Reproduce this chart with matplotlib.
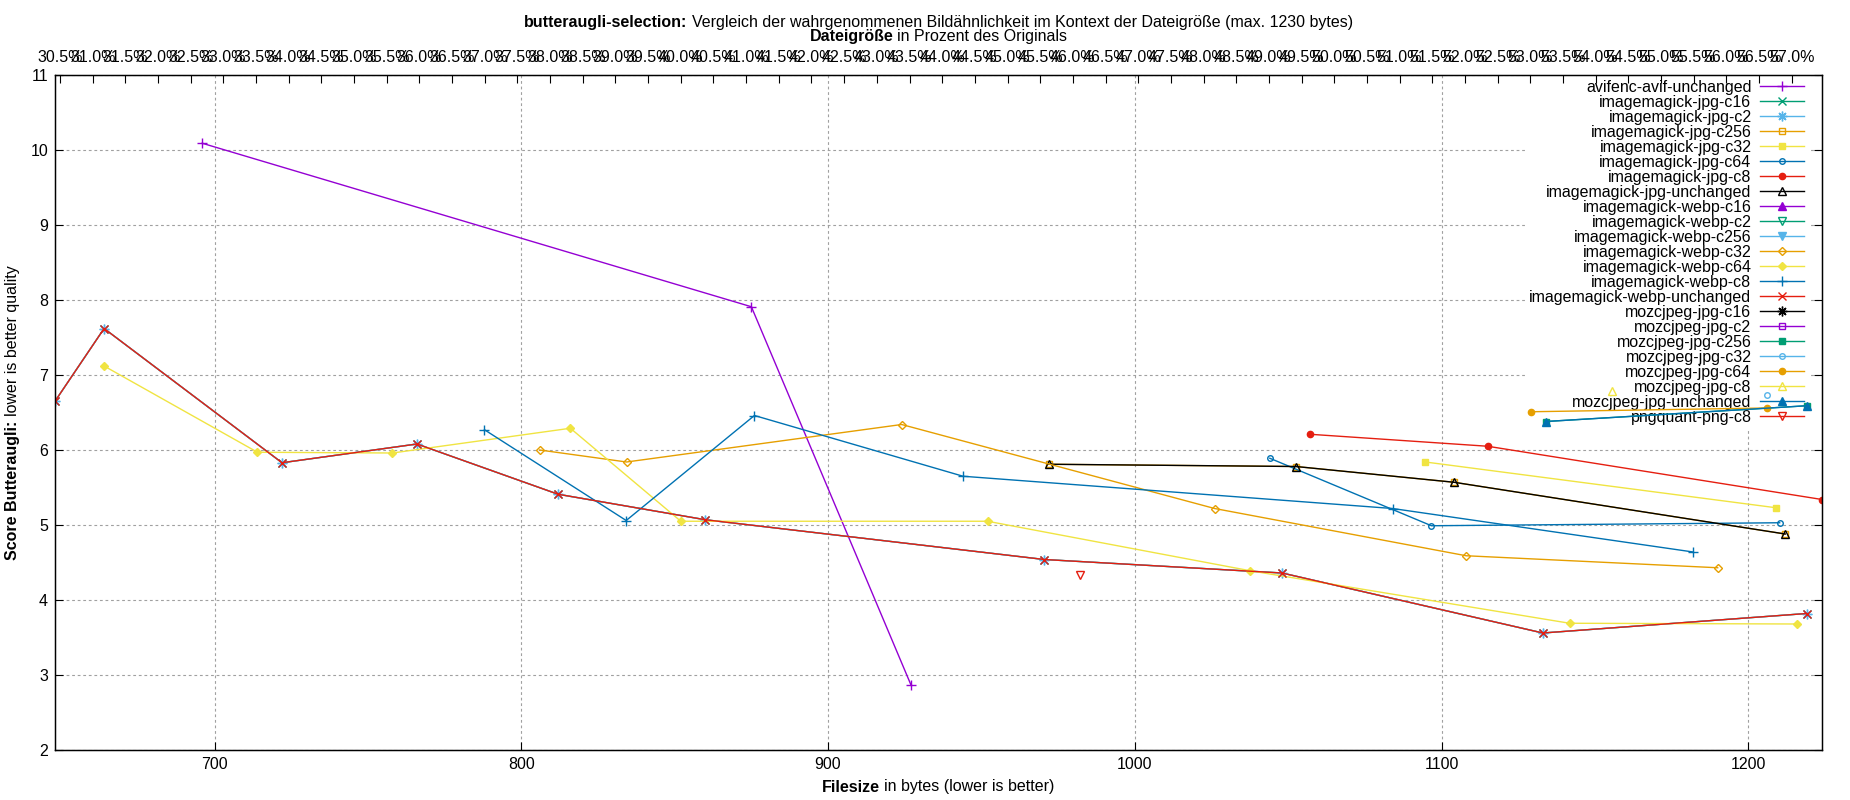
import numpy as np
import matplotlib.pyplot as plt
from matplotlib.offsetbox import TextArea, HPacker, AnchoredOffsetbox

plt.rcParams['font.family'] = ['Liberation Sans', 'DejaVu Sans']

FS = 11.5
ORIGINAL_BYTES = 2130

# filesize in bytes / butteraugli score
avif_x = [696, 875, 927]
avif_y = [10.09, 7.91, 2.87]

# several variants give identical results (drawn on top of each other)
shared_x = [648, 664, 722, 766, 812, 860, 970.5, 1048, 1133, 1219]
shared_y = [6.65, 7.62, 5.83, 6.08, 5.41, 5.07, 4.54, 4.36, 3.56, 3.82]

im_jpg_unchanged_x = [972, 1052.5, 1104, 1212]
im_jpg_unchanged_y = [5.81, 5.78, 5.57, 4.88]
im_jpg_c32_x = [1094.7, 1209]
im_jpg_c32_y = [5.84, 5.23]
im_jpg_c64_x = [1044, 1096.7, 1210.2]
im_jpg_c64_y = [5.89, 4.99, 5.03]
im_jpg_c8_x = [1057, 1115, 1224]
im_jpg_c8_y = [6.21, 6.05, 5.34]
im_webp_c32_x = [806, 834.3, 924, 1026, 1108, 1190]
im_webp_c32_y = [6.00, 5.84, 6.34, 5.22, 4.59, 4.43]
im_webp_c64_x = [664, 714, 758, 816, 852, 952, 1037.6, 1141.7, 1216]
im_webp_c64_y = [7.12, 5.97, 5.96, 6.29, 5.05, 5.05, 4.39, 3.69, 3.68]
im_webp_c8_x = [788, 834.2, 876, 944, 1084, 1182]
im_webp_c8_y = [6.27, 5.06, 6.46, 5.65, 5.22, 4.64]
moz_c256_x = [1134, 1219]
moz_c256_y = [6.38, 6.59]
moz_c32_x = [1206]
moz_c32_y = [6.73]
moz_c64_x = [1129, 1206]
moz_c64_y = [6.51, 6.56]
moz_c8_x = [1155.7]
moz_c8_y = [6.79]
png_c8_x = [982]
png_c8_y = [4.33]
empty = []

x_ticks = [700, 800, 900, 1000, 1100, 1200]
y_ticks = [2, 3, 4, 5, 6, 7, 8, 9, 10, 11]
pct_ticks = np.arange(30.5, 57.01, 0.5)

# gnuplot default colours and point types
purple, green, skyblue, orange = '#9400d3', '#009e73', '#56b4e9', '#e69f00'
yellow, blue, red, black = '#f0e442', '#0072b2', '#e51e10', '#000000'
ast = (8, 2, 0)

series = [
    ('avifenc-avif-unchanged', avif_x, avif_y, purple, '+', True, 7),
    ('imagemagick-jpg-c16', shared_x, shared_y, green, 'x', True, 6),
    ('imagemagick-jpg-c2', shared_x, shared_y, skyblue, ast, True, 7),
    ('imagemagick-jpg-c256', im_jpg_unchanged_x, im_jpg_unchanged_y, orange, 's', False, 5),
    ('imagemagick-jpg-c32', im_jpg_c32_x, im_jpg_c32_y, yellow, 's', True, 5),
    ('imagemagick-jpg-c64', im_jpg_c64_x, im_jpg_c64_y, blue, 'o', False, 4),
    ('imagemagick-jpg-c8', im_jpg_c8_x, im_jpg_c8_y, red, 'o', True, 4.5),
    ('imagemagick-jpg-unchanged', im_jpg_unchanged_x, im_jpg_unchanged_y, black, '^', False, 5.5),
    ('imagemagick-webp-c16', empty, empty, purple, '^', True, 5.5),
    ('imagemagick-webp-c2', empty, empty, green, 'v', False, 5.5),
    ('imagemagick-webp-c256', empty, empty, skyblue, 'v', True, 5.5),
    ('imagemagick-webp-c32', im_webp_c32_x, im_webp_c32_y, orange, 'D', False, 4),
    ('imagemagick-webp-c64', im_webp_c64_x, im_webp_c64_y, yellow, 'D', True, 4),
    ('imagemagick-webp-c8', im_webp_c8_x, im_webp_c8_y, blue, '+', True, 7),
    ('imagemagick-webp-unchanged', shared_x, shared_y, red, 'x', True, 6),
    ('mozcjpeg-jpg-c16', empty, empty, black, ast, True, 7),
    ('mozcjpeg-jpg-c2', empty, empty, purple, 's', False, 5),
    ('mozcjpeg-jpg-c256', moz_c256_x, moz_c256_y, green, 's', True, 5),
    ('mozcjpeg-jpg-c32', moz_c32_x, moz_c32_y, skyblue, 'o', False, 4),
    ('mozcjpeg-jpg-c64', moz_c64_x, moz_c64_y, orange, 'o', True, 4.5),
    ('mozcjpeg-jpg-c8', moz_c8_x, moz_c8_y, yellow, '^', False, 5.5),
    ('mozcjpeg-jpg-unchanged', moz_c256_x, moz_c256_y, blue, '^', True, 5.5),
    ('pngquant-png-c8', png_c8_x, png_c8_y, red, 'v', False, 5.5),
]

W, H = 1850, 800
fig = plt.figure(figsize=(W / 100, H / 100), dpi=100)
left, right, top, bottom = 55, 1822, 75, 750
ax = fig.add_axes([left / W, 1 - bottom / H, (right - left) / W, (bottom - top) / H])

for label, xs, ys, col, mk, filled, ms in series:
    ax.plot(xs, ys, color=col, lw=1.0, marker=mk, ms=ms, mew=1.0,
            mfc=col if filled else 'none', mec=col, label=label)

all_x = [v for s in series for v in s[1]]
xmin, xmax = min(all_x), max(all_x)
ax.set_xlim(xmin, xmax)
ax.set_ylim(2, 11)
ax.set_xticks(x_ticks)
ax.set_yticks(y_ticks)
ax.tick_params(direction='in', length=5.8, width=0.8, top=True, right=True,
               labelsize=FS, pad=5)
ax.set_axisbelow(True)
ax.grid(True, color='#a0a0a0', lw=0.8, linestyle=(0, (2.5, 2.5)))
for sp in ax.spines.values():
    sp.set_linewidth(1.0)

ax2 = ax.twiny()
ax2.set_xlim(xmin / ORIGINAL_BYTES * 100, xmax / ORIGINAL_BYTES * 100)
ax2.set_xticks(pct_ticks)
ax2.set_xticklabels([f'{v:.1f}%' for v in pct_ticks])
ax2.tick_params(direction='in', length=5.8, width=0.8, labelsize=FS, pad=7)

leg = ax.legend(loc='upper right', bbox_to_anchor=(1 - 13 / (right - left), 1),
                fontsize=FS, markerfirst=False, frameon=True, fancybox=False,
                borderaxespad=0, borderpad=0.3, labelspacing=0.0,
                handlelength=2.75, handletextpad=0.55, numpoints=1)
leg.get_frame().set_facecolor('white')
leg.get_frame().set_edgecolor('none')
leg.get_frame().set_alpha(1)
leg.set_zorder(1.5)
for column in leg._legend_box._children[-1]._children:
    column.align = 'right'


def mixed_text(x, y, bold, normal):
    parts = [TextArea(bold, textprops=dict(fontweight='bold', fontsize=FS)),
             TextArea(normal, textprops=dict(fontsize=FS))]
    box = HPacker(children=parts, align='baseline', pad=0, sep=3)
    anchored = AnchoredOffsetbox(loc='center', child=box, frameon=False, pad=0,
                                 borderpad=0, bbox_to_anchor=(x / W, 1 - y / H),
                                 bbox_transform=fig.transFigure)
    fig.add_artist(anchored)


mid = (left + right) / 2
mixed_text(mid, 22, 'butteraugli-selection:',
           'Vergleich der wahrgenommenen Bildähnlichkeit im Kontext der Dateigröße (max. 1230 bytes)')
mixed_text(mid, 37, 'Dateigröße', 'in Prozent des Originals')
mixed_text(mid, 787, 'Filesize', 'in bytes (lower is better)')

# rotated y label: bold part + normal part stacked along the axis
renderer = fig.canvas.get_renderer()
yb = fig.text(0, 0, 'Score Butteraugli:', rotation=90, fontsize=FS,
              fontweight='bold', ha='center', va='bottom')
yn = fig.text(0, 0, 'lower is better quality', rotation=90, fontsize=FS,
              ha='center', va='bottom')
hb = yb.get_window_extent(renderer).height
hn = yn.get_window_extent(renderer).height
gap = 4.5
y0 = (H - (top + bottom) / 2) - (hb + gap + hn) / 2
yb.set_position((13 / W, y0 / H))
yn.set_position((13 / W, (y0 + hb + gap) / H))

fig.savefig('out.png', dpi=100)
